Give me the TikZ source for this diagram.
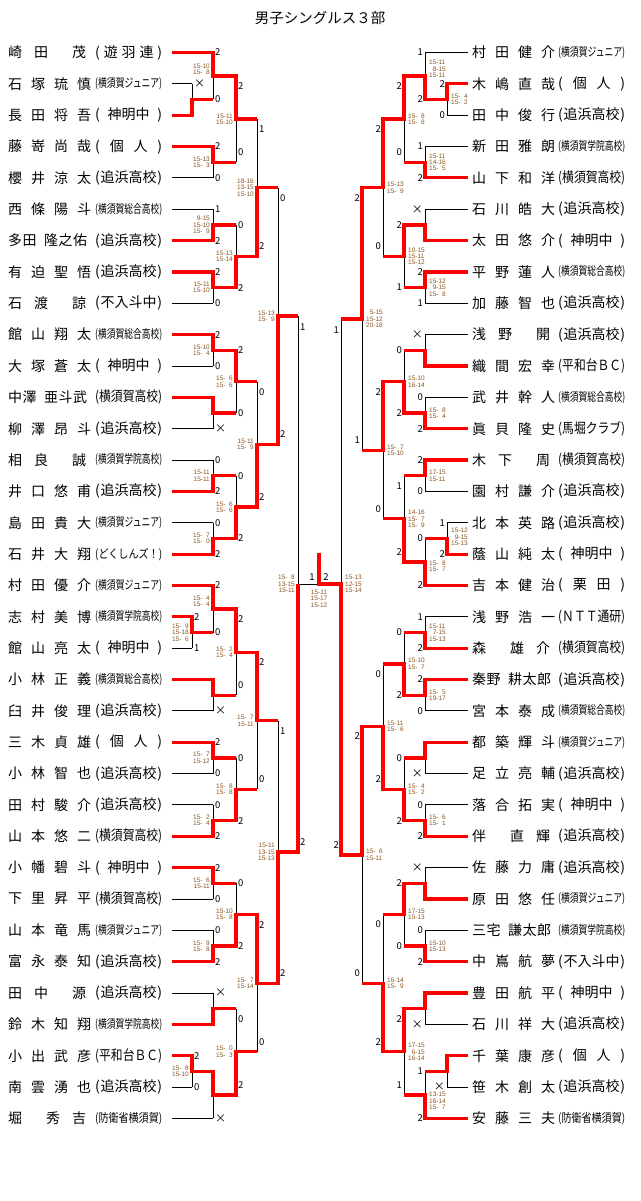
\documentclass[tikz,border=0pt]{standalone}
\usepackage{fontspec}
\usepackage{graphicx}
\setmainfont{Noto Sans CJK JP}
\newfontfamily\scfont{Liberation Sans}
\definecolor{scorecol}{RGB}{140,85,30}
\definecolor{winred}{RGB}{255,0,0}
\newcommand\zf{\phantom{0}}
\newcommand\xx{{\fontsize{11}{11}\selectfont ×}}
\newcommand\nmAA[4]{\rlap{#1}\hspace{23pt}\rlap{#2}\hspace{23pt}\rlap{#3}\hspace{23pt}#4}
\newcommand\nmAB[3]{\rlap{#1}\hspace{26pt}\rlap{#2}\hspace{38pt}#3}
\newcommand\nmBA[3]{\rlap{#1}\hspace{38pt}\rlap{#2}\hspace{26pt}#3}
\newcommand\nmAC[5]{\rlap{#1}\hspace{14.5pt}\rlap{#2}\hspace{21.5pt}\rlap{#3}\hspace{14.5pt}\rlap{#4}\hspace{14.5pt}#5}
\newcommand\aff[1]{{\fontsize{14}{14}\selectfont\sbox0{#1}\ifdim\wd0>67pt\relax\resizebox{67pt}{\height}{#1}\else\makebox[67pt][s]{#1}\fi}}
\newcommand\affs[1]{{\fontsize{12}{12}\selectfont\sbox0{#1}\ifdim\wd0>67pt\relax\resizebox{67pt}{\height}{#1}\else\makebox[67pt][s]{#1}\fi}}
\newcommand\afYuuha{\aff{(\hfil 遊\hfil 羽\hfil 連\hfil )}}
\newcommand\afShinmei{\aff{(\hfil 神明中\hfil )}}
\newcommand\afKojin{\aff{(\hfil 個\hfil 人\hfil )}}
\newcommand\afOppama{\aff{(\hfil 追浜高校\hfil )}}
\newcommand\afIriya{\aff{(\hfil 不入斗中\hfil )}}
\newcommand\afYKoko{\aff{(横須賀高校)}}
\newcommand\afHeiwa{\aff{(平和台ＢＣ)}}
\newcommand\afMabori{\aff{(馬堀クラブ)}}
\newcommand\afKurita{\aff{(\hfil 栗\hfil 田\hfil )}}
\newcommand\afNTT{\aff{(ＮＴＴ通研)}}
\newcommand\afYJr{\affs{(横須賀ジュニア)}}
\newcommand\afYSogo{\affs{(横須賀総合高校)}}
\newcommand\afYGakuin{\affs{(横須賀学院高校)}}
\newcommand\afBouei{\affs{(防衛省横須賀)}}
\newcommand\afDoku{\affs{(どくしんズ！)}}
% X/Xn/Xp/ya/yb/m/w/la/lb/inset/scores/sy
\def\leftdata{%
192/213/172/83.85/115.2/99.5/b/\xx/{}/0/{}/99.5,
192/213/172/616.8/648.15/632.5/t/2/1/0/{15-\zf9\\15-18\\15-\zf6}/632.5,
192/213/172/1055.7/1087.05/1071.4/t/2/0/0/{15-\zf8\\15-10}/1071.4,
213/236/172/52.5/99.5/76/t/2/0/0/{15-10\\15-\zf8}/69,
213/236/172/146.55/177.9/162.2/t/2/0/0/{15-13\\15-\zf3}/162.2,
213/236/172/209.25/240.6/224.9/b/1/2/0/{\zf9-15\\15-10\\15-\zf9}/224.9,
213/236/172/271.95/303.3/287.6/t/2/0/0/{15-11\\15-10}/287.6,
213/236/172/334.65/366.0/350.3/t/2/0/0/{15-10\\15-\zf4}/350.3,
213/236/172/397.35/428.7/413/t/{}/\xx/0/{}/413,
213/236/172/460.05/491.4/475.7/b/0/2/0/{15-11\\15-11}/475.7,
213/236/172/522.75/554.1/538.4/b/0/2/0/{15-\zf7\\15-\zf0}/538.4,
213/236/172/585.45/632.5/609/t/2/0/0/{15-\zf4\\15-\zf4}/601,
213/236/172/679.5/710.85/695.2/t/{}/\xx/0/{}/695.2,
213/236/172/742.2/773.55/757.9/t/2/0/0/{15-\zf7\\15-12}/757.9,
213/236/172/804.9/836.25/820.6/b/0/2/0/{15-\zf2\\15-\zf4}/820.6,
213/236/172/867.6/898.95/883.3/t/2/0/0/{15-\zf6\\15-11}/883.3,
213/236/172/930.3/961.65/946/b/0/2/0/{15-\zf9\\15-\zf8}/946,
213/236/172/993.0/1024.35/1008.7/b/\xx/{}/0/{}/1008.7,
213/236/192/1071.4/1118.4/1094.9/t/{}/\xx/0/{}/1094.9,
236/257/213/76/162.2/119.1/t/2/0/10/{15-11\\15-10}/119.1,
236/257/213/224.9/287.6/256.3/b/0/2/0/{15-13\\15-14}/256.3,
236/257/213/350.3/413/381.7/t/2/0/0/{15-\zf6\\15-\zf6}/381.7,
236/257/213/475.7/538.4/507/b/0/2/0/{15-\zf6\\15-\zf6}/507,
236/257/213/609/695.2/652.1/t/2/0/10/{15-\zf2\\15-\zf4}/652.1,
236/257/213/757.9/820.6/789.2/b/0/2/0/{15-\zf8\\15-\zf8}/789.2,
236/257/213/883.3/946/914.6/b/0/2/0/{15-10\\15-\zf8}/914.6,
236/257/213/1008.7/1094.9/1051.8/b/0/2/10/{15-\zf0\\15-\zf3}/1051.8,
257/278/236/119.1/256.3/187.7/b/1/2/10/{18-16\\13-15\\15-10}/187.7,
257/278/236/381.7/507/444.4/b/0/2/10/{15-11\\15-\zf9}/444.4,
257/278/236/652.1/789.2/720.7/t/2/0/10/{15-\zf7\\15-11}/720.7,
257/278/236/914.6/1051.8/983.2/t/2/0/10/{15-\zf7\\15-14}/983.2,
278/298/257/187.7/444.4/316/b/0/2/10/{15-13\\15-\zf9}/316,
278/298/257/720.7/983.2/852/b/1/2/10/{15-11\\13-15\\15-13}/852}
\def\rightdata{%
447/425/468/83.85/115.2/99.5/t/2/0/0/{15-\zf4\\15-\zf2}/99.5,
447/425/468/522.75/554.1/538.4/b/1/2/0/{15-12\\\zf9-15\\15-13}/537,
447/425/468/1055.7/1087.05/1071.4/t/{}/\xx/0/{}/1071.4,
425/404/447/52.5/99.5/76/b/1/2/0/{15-11\\\zf8-15\\15-11}/69,
425/404/468/146.55/177.9/162.2/b/1/2/0/{15-11\\14-16\\15-\zf5}/162.2,
425/404/468/209.25/240.6/224.9/b/\xx/{}/0/{}/224.9,
425/404/468/271.95/303.3/287.6/t/2/1/0/{15-12\\\zf9-15\\15-\zf8}/287.6,
425/404/468/334.65/366.0/350.3/b/\xx/{}/0/{}/350.3,
425/404/468/397.35/428.7/413/b/0/2/0/{15-\zf8\\15-\zf4}/413,
425/404/468/460.05/491.4/475.7/t/2/0/0/{17-15\\15-11}/475.7,
425/404/468/538.4/585.45/561.9/b/0/2/0/{15-\zf8\\15-\zf7}/566,
425/404/468/616.8/648.15/632.5/b/1/2/0/{15-11\\\zf7-15\\15-13}/632.5,
425/404/468/679.5/710.85/695.2/t/2/0/0/{15-\zf5\\19-17}/695.2,
425/404/468/742.2/773.55/757.9/t/{}/\xx/0/{}/757.9,
425/404/468/804.9/836.25/820.6/b/0/2/0/{15-\zf6\\15-\zf1}/820.6,
425/404/468/867.6/898.95/883.3/b/\xx/{}/0/{}/883.3,
425/404/468/930.3/961.65/946/b/0/2/0/{15-10\\15-13}/946,
425/404/468/993.0/1024.35/1008.7/t/{}/\xx/0/{}/1008.7,
425/404/468/1071.4/1118.4/1094.9/b/1/2/0/{13-15\\16-14\\15-\zf7}/1101,
404/383/425/76/162.2/119.1/t/2/0/10/{15-\zf8\\15-\zf8}/119.1,
404/383/425/224.9/287.6/256.3/t/2/1/0/{10-15\\15-11\\15-12}/256.3,
404/383/425/350.3/413/381.7/b/0/2/0/{15-10\\16-14}/381.7,
404/383/425/475.7/561.9/518.8/b/1/2/10/{14-16\\15-\zf7\\15-\zf9}/518.8,
404/383/425/632.5/695.2/663.9/b/0/2/0/{15-10\\15-\zf7}/663.9,
404/383/425/757.9/820.6/789.2/b/0/2/0/{15-\zf4\\15-\zf2}/789.2,
404/383/425/883.3/946/914.6/t/2/0/0/{17-15\\15-13}/914.6,
404/383/425/1008.7/1094.9/1051.8/t/2/1/10/{17-15\\\zf6-15\\16-14}/1051.8,
383/362/404/119.1/256.3/187.7/t/2/0/10/{15-13\\15-\zf9}/187.7,
383/362/404/381.7/518.8/450.3/t/2/0/10/{15-\zf7\\15-10}/450.3,
383/362/404/663.9/789.2/726.5/b/0/2/10/{15-11\\15-\zf6}/726.5,
383/362/404/914.6/1051.8/983.2/b/0/2/10/{16-14\\15-\zf9}/983.2,
362/341/383/187.7/450.3/319/t/2/1/10/{\zf5-15\\15-12\\20-18}/319,
362/341/383/726.5/983.2/854.9/t/2/0/10/{15-\zf6\\15-11}/854.9}
\tikzset{
  thinl/.style={draw=black, line width=0.9pt},
  win/.style={draw=winred, line width=3.2pt, line join=miter},
  lab/.style={inner sep=0pt, font=\fontsize{9.5}{9.5}\selectfont},
  score/.style={inner sep=0pt, text=scorecol, font=\scfont\fontsize{6.5}{6.3}\selectfont},
  pname/.style={anchor=west, inner sep=0pt, font=\fontsize{14}{14}\selectfont},
  paff/.style={anchor=west, inner sep=0pt}
}
\begin{document}
\begin{tikzpicture}[x=1pt,y=-1pt]
\useasboundingbox (0,0) rectangle (640,1201);
\fill[white] (0,0) rectangle (640,1201);
\node[font=\fontsize{14.5}{14.5}\selectfont] (title) at (320,18.5) {男子シングルス３部};
% entry lines
\foreach \i in {0,3,4,5,6,7,8,9,10,11,12,13,14,15,16,17,20,21,22,23,24,25,26,27,28,29,30,31,34}
  \draw[thinl] (172,{52.5+31.35*\i}) -- (213,{52.5+31.35*\i});
\foreach \i in {1,2,18,19,32,33}
  \draw[thinl] (172,{52.5+31.35*\i}) -- (192,{52.5+31.35*\i});
\foreach \i in {0,3,4,5,6,7,8,9,10,11,12,13,14,17,18,19,20,21,22,23,24,25,26,27,28,29,30,31,34}
  \draw[thinl] (468,{52.5+31.35*\i}) -- (425,{52.5+31.35*\i});
\foreach \i in {1,2,15,16,32,33}
  \draw[thinl] (468,{52.5+31.35*\i}) -- (447,{52.5+31.35*\i});
% match verticals
\foreach \X/\Xn/\Xp/\ya/\yb/\m/\w/\la/\lb/\dd/\scs/\sy in \leftdata
  \draw[thinl] (\X,\ya) -- (\X,\yb);
\foreach \X/\Xn/\Xp/\ya/\yb/\m/\w/\la/\lb/\dd/\scs/\sy in \rightdata
  \draw[thinl] (\X,\ya) -- (\X,\yb);
\draw[thinl] (298,316) -- (298,852);
\draw[thinl] (341,319) -- (341,854.9);
\draw[thinl] (298,584) -- (341,584);
% winner paths
\foreach \X/\Xn/\Xp/\ya/\yb/\m/\w/\la/\lb/\dd/\scs/\sy in \leftdata {
  \if t\w\def\yw{\ya}\else\def\yw{\yb}\fi
  \draw[win] (\Xp,\yw) -- (\X,\yw) -- (\X,\m) -- (\Xn,\m);
}
\foreach \X/\Xn/\Xp/\ya/\yb/\m/\w/\la/\lb/\dd/\scs/\sy in \rightdata {
  \if t\w\def\yw{\ya}\else\def\yw{\yb}\fi
  \draw[win] (\Xp,\yw) -- (\X,\yw) -- (\X,\m) -- (\Xn,\m);
}
\draw[win] (278,852) -- (298,852) -- (298,584);
\draw[win] (362,854.9) -- (341,854.9) -- (341,584) -- (319,584) -- (319,553);
% labels and scores
\foreach \X/\Xn/\Xp/\ya/\yb/\m/\w/\la/\lb/\dd/\scs/\sy [count=\kk] in \leftdata {
  \node[lab, anchor=west] (La\kk) at ({\X+2},{\ya+\dd}) {\la};
  \node[lab, anchor=west] (Lb\kk) at ({\X+2},{\yb-\dd}) {\lb};
  \node[score, anchor=east, align=right] (Ls\kk) at ({\X-3},\sy) {\scs};
}
\foreach \X/\Xn/\Xp/\ya/\yb/\m/\w/\la/\lb/\dd/\scs/\sy [count=\kk] in \rightdata {
  \node[lab, anchor=east] (Ra\kk) at ({\X-2},{\ya+\dd}) {\la};
  \node[lab, anchor=east] (Rb\kk) at ({\X-2},{\yb-\dd}) {\lb};
  \node[score, anchor=west, align=left] (Rs\kk) at ({\X+4},\sy) {\scs};
}
\node[lab, anchor=west] (L5a) at (300,327) {1};
\node[lab, anchor=west] (L5b) at (300,842) {2};
\node[lab, anchor=east] (R5a) at (339,330) {1};
\node[lab, anchor=east] (R5b) at (339,845) {2};
\node[score, anchor=east, align=right] (L5s) at (295,584) {15-\zf8\\13-15\\15-11};
\node[score, anchor=west, align=left] (R5s) at (345,584) {15-13\\12-15\\15-14};
\node[lab] (Fa) at (312,577) {1};
\node[lab] (Fb) at (326,577) {2};
\node[score, align=center] (Fs) at (319,598.5) {15-11\\15-17\\15-12};
% left entries
\foreach \i/\nmtext/\aftext in {
0/{\nmAB{崎}{田}{茂}}/\afYuuha,
1/{\nmAA{石}{塚}{琉}{慎}}/\afYJr,
2/{\nmAA{長}{田}{将}{吾}}/\afShinmei,
3/{\nmAA{藤}{嵜}{尚}{哉}}/\afKojin,
4/{\nmAA{櫻}{井}{涼}{太}}/\afOppama,
5/{\nmAA{西}{條}{陽}{斗}}/\afYSogo,
6/{\nmAC{多}{田}{隆}{之}{佑}}/\afOppama,
7/{\nmAA{有}{迫}{聖}{悟}}/\afOppama,
8/{\nmAB{石}{渡}{諒}}/\afIriya,
9/{\nmAA{館}{山}{翔}{太}}/\afYSogo,
10/{\nmAA{大}{塚}{蒼}{太}}/\afShinmei,
11/{\nmAC{中}{澤}{亜}{斗}{武}}/\afYKoko,
12/{\nmAA{柳}{澤}{昂}{斗}}/\afOppama,
13/{\nmAB{相}{良}{誠}}/\afYGakuin,
14/{\nmAA{井}{口}{悠}{甫}}/\afOppama,
15/{\nmAA{島}{田}{貴}{大}}/\afYJr,
16/{\nmAA{石}{井}{大}{翔}}/\afDoku,
17/{\nmAA{村}{田}{優}{介}}/\afYJr,
18/{\nmAA{志}{村}{美}{博}}/\afYGakuin,
19/{\nmAA{館}{山}{亮}{太}}/\afShinmei,
20/{\nmAA{小}{林}{正}{義}}/\afYSogo,
21/{\nmAA{臼}{井}{俊}{理}}/\afOppama,
22/{\nmAA{三}{木}{貞}{雄}}/\afKojin,
23/{\nmAA{小}{林}{智}{也}}/\afOppama,
24/{\nmAA{田}{村}{駿}{介}}/\afOppama,
25/{\nmAA{山}{本}{悠}{二}}/\afYKoko,
26/{\nmAA{小}{幡}{碧}{斗}}/\afShinmei,
27/{\nmAA{下}{里}{昇}{平}}/\afYKoko,
28/{\nmAA{山}{本}{竜}{馬}}/\afYJr,
29/{\nmAA{富}{永}{泰}{知}}/\afOppama,
30/{\nmAB{田}{中}{源}}/\afOppama,
31/{\nmAA{鈴}{木}{知}{翔}}/\afYGakuin,
32/{\nmAA{小}{出}{武}{彦}}/\afHeiwa,
33/{\nmAA{南}{雲}{湧}{也}}/\afOppama,
34/{\nmBA{堀}{秀}{吉}}/\afBouei} {
  \node[pname] (nL\i) at (8,{52.5+31.35*\i}) {\nmtext};
  \node[paff] (aL\i) at (95,{52.5+31.35*\i}) {\aftext};
}
% right entries
\foreach \i/\nmtext/\aftext in {
0/{\nmAA{村}{田}{健}{介}}/\afYJr,
1/{\nmAA{木}{嶋}{直}{哉}}/\afKojin,
2/{\nmAA{田}{中}{俊}{行}}/\afOppama,
3/{\nmAA{新}{田}{雅}{朗}}/\afYGakuin,
4/{\nmAA{山}{下}{和}{洋}}/\afYKoko,
5/{\nmAA{石}{川}{皓}{大}}/\afOppama,
6/{\nmAA{太}{田}{悠}{介}}/\afShinmei,
7/{\nmAA{平}{野}{蓮}{人}}/\afYSogo,
8/{\nmAA{加}{藤}{智}{也}}/\afOppama,
9/{\nmAB{浅}{野}{開}}/\afOppama,
10/{\nmAA{織}{間}{宏}{幸}}/\afHeiwa,
11/{\nmAA{武}{井}{幹}{人}}/\afYSogo,
12/{\nmAA{眞}{貝}{隆}{史}}/\afMabori,
13/{\nmAB{木}{下}{周}}/\afYKoko,
14/{\nmAA{園}{村}{謙}{介}}/\afOppama,
15/{\nmAA{北}{本}{英}{路}}/\afOppama,
16/{\nmAA{蔭}{山}{純}{太}}/\afShinmei,
17/{\nmAA{吉}{本}{健}{治}}/\afKurita,
18/{\nmAA{浅}{野}{浩}{一}}/\afNTT,
19/{\nmBA{森}{雄}{介}}/\afYKoko,
20/{\nmAC{秦}{野}{耕}{太}{郎}}/\afOppama,
21/{\nmAA{宮}{本}{泰}{成}}/\afYSogo,
22/{\nmAA{都}{築}{輝}{斗}}/\afYJr,
23/{\nmAA{足}{立}{亮}{輔}}/\afOppama,
24/{\nmAA{落}{合}{拓}{実}}/\afShinmei,
25/{\nmBA{伴}{直}{輝}}/\afOppama,
26/{\nmAA{佐}{藤}{力}{庸}}/\afOppama,
27/{\nmAA{原}{田}{悠}{任}}/\afYJr,
28/{\nmAC{三}{宅}{謙}{太}{郎}}/\afYGakuin,
29/{\nmAA{中}{嶌}{航}{夢}}/\afIriya,
30/{\nmAA{豊}{田}{航}{平}}/\afShinmei,
31/{\nmAA{石}{川}{祥}{大}}/\afOppama,
32/{\nmAA{千}{葉}{康}{彦}}/\afKojin,
33/{\nmAA{笹}{木}{創}{太}}/\afOppama,
34/{\nmAA{安}{藤}{三}{夫}}/\afBouei} {
  \node[pname] (nR\i) at (472,{52.5+31.35*\i}) {\nmtext};
  \node[paff] (aR\i) at (558,{52.5+31.35*\i}) {\aftext};
}
\end{tikzpicture}
\end{document}
